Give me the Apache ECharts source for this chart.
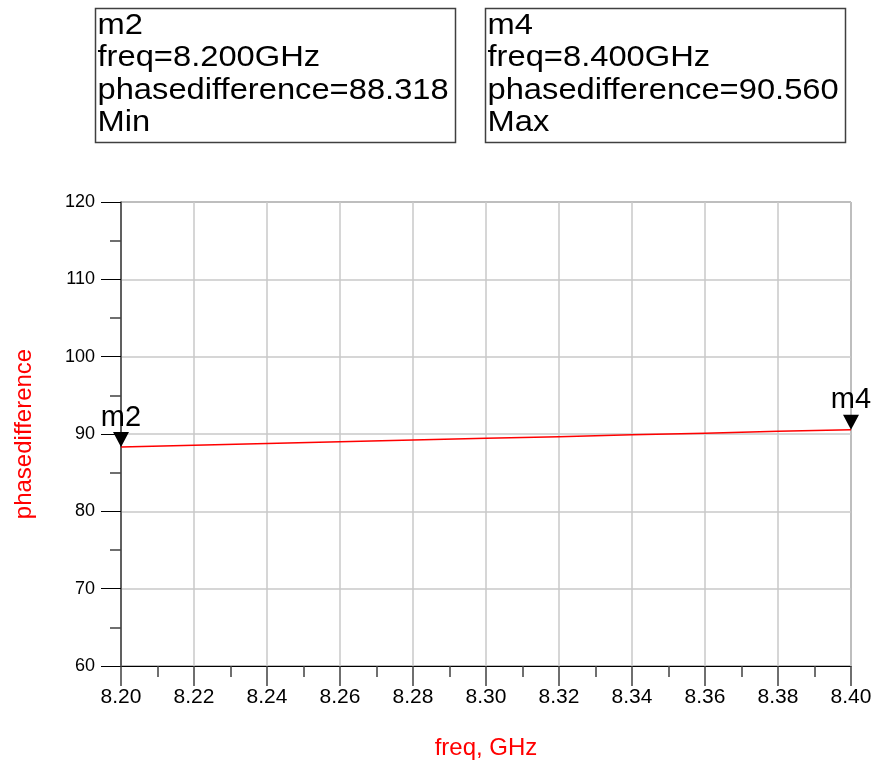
<!DOCTYPE html>
<html>
<head>
<meta charset="utf-8">
<script src="https://cdn.jsdelivr.net/npm/echarts@6/dist/echarts.min.js"></script>
<style>
  html, body { margin: 0; padding: 0; background: #ffffff; }
  #chart { width: 877px; height: 769px; }
</style>
</head>
<body>
<div id="chart"></div>
<script>
// Swept frequency (GHz) and measured phase difference (degrees)
const freqGHz = [8.20, 8.22, 8.24, 8.26, 8.28, 8.30, 8.32, 8.34, 8.36, 8.38, 8.40];
const phaseDiff = [88.318, 88.54, 88.77, 88.99, 89.21, 89.44, 89.66, 89.89, 90.11, 90.34, 90.560];

// Markers placed on the trace
const markerNames = ['m2', 'm4'];
const markerFreq = [8.200, 8.400];
const markerPhase = [88.318, 90.560];
const markerKind = ['Min', 'Max'];

// Axis settings
const yTicks = [60, 70, 80, 90, 100, 110, 120];
const xName = 'freq, GHz';
const yName = 'phasedifference';

const FONT = 'Liberation Sans, Arial, sans-serif';

const chart = echarts.init(document.getElementById('chart'), null, { renderer: 'canvas' });

const seriesData = freqGHz.map((f, i) => [f, phaseDiff[i]]);

const markData = markerNames.map((name, i) => ({
  name: name,
  coord: [markerFreq[i], markerPhase[i]],
  label: { formatter: name }
}));

// Readout boxes above the plot
const boxX = [95.5, 485.5];
const boxGraphics = [];
markerNames.forEach((name, i) => {
  boxGraphics.push({
    type: 'rect',
    x: boxX[i], y: 8.5,
    shape: { x: 0, y: 0, width: 360, height: 134 },
    style: { fill: '#ffffff', stroke: '#404040', lineWidth: 1.5 },
    z: 10
  });
  boxGraphics.push({
    type: 'text',
    x: boxX[i] + 2, y: 9,
    scaleX: 1.09,
    style: {
      text: [
        name,
        'freq=' + markerFreq[i].toFixed(3) + 'GHz',
        'phasedifference=' + markerPhase[i].toFixed(3),
        markerKind[i]
      ].join('\n'),
      font: '30px ' + FONT,
      lineHeight: 32.5,
      fill: '#000000',
      textVerticalAlign: 'top'
    },
    z: 11
  });
});

const option = {
  backgroundColor: '#ffffff',
  animation: false,
  textStyle: { fontFamily: FONT },
  grid: {
    left: 121, top: 202, right: 26, bottom: 103,
    show: true, borderColor: '#404040', borderWidth: 1,
    containLabel: false
  },
  xAxis: {
    type: 'value',
    min: 8.20, max: 8.40, interval: 0.02,
    name: xName,
    nameLocation: 'middle',
    nameGap: 70,
    nameTextStyle: { color: '#ff0000', fontSize: 24, fontFamily: FONT },
    axisLine: { show: true, lineStyle: { color: '#000000', width: 1 } },
    axisTick: { show: true, inside: false, length: 20, lineStyle: { color: '#404040', width: 1.5 } },
    minorTick: { show: true, splitNumber: 2, length: 11, lineStyle: { color: '#404040', width: 1.5 } },
    axisLabel: {
      margin: 21, color: '#000000', fontSize: 21, fontFamily: FONT,
      formatter: v => v.toFixed(2)
    },
    splitLine: { show: true, lineStyle: { color: '#c8c8c8', width: 1.5 } }
  },
  yAxis: {
    type: 'value',
    min: yTicks[0], max: yTicks[yTicks.length - 1], interval: yTicks[1] - yTicks[0],
    name: yName,
    nameLocation: 'middle',
    nameGap: 85,
    nameRotate: 90,
    nameTextStyle: { color: '#ff0000', fontSize: 24, fontFamily: FONT },
    axisLine: { show: true, lineStyle: { color: '#404040', width: 1.5 } },
    axisTick: { show: true, inside: false, length: 20, lineStyle: { color: '#000000', width: 1 } },
    minorTick: { show: true, splitNumber: 2, length: 11, lineStyle: { color: '#404040', width: 1.5 } },
    axisLabel: { margin: 26, color: '#000000', fontSize: 18, fontFamily: FONT },
    splitLine: { show: true, lineStyle: { color: '#c8c8c8', width: 1.5 } }
  },
  series: [{
    type: 'line',
    data: seriesData,
    showSymbol: false,
    lineStyle: { color: '#ff0000', width: 1.5 },
    itemStyle: { color: '#ff0000' },
    clip: false,
    markPoint: {
      symbol: 'triangle',
      symbolSize: [16, 15],
      symbolRotate: 180,
      symbolOffset: [0, '-50%'],
      itemStyle: { color: '#000000' },
      label: {
        show: true,
        position: 'top',
        distance: 0,
        color: '#000000',
        fontSize: 29,
        fontFamily: FONT
      },
      data: markData
    }
  }],
  graphic: boxGraphics
};

chart.setOption(option);
</script>
</body>
</html>
